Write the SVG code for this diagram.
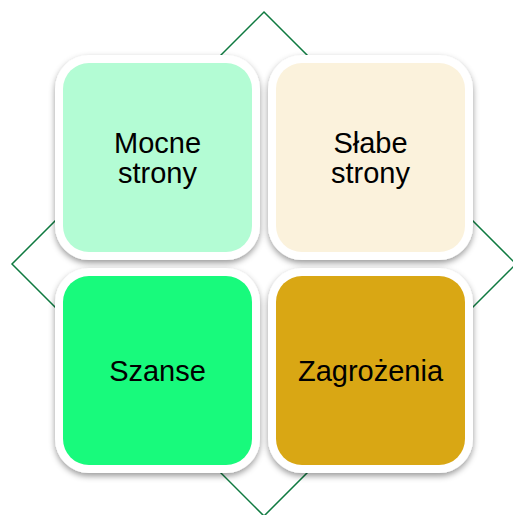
<svg xmlns="http://www.w3.org/2000/svg" width="513" height="515" viewBox="0 0 513 515">
  <defs>
    <filter id="shadow" x="-20%" y="-20%" width="140%" height="150%">
      <feDropShadow dx="0" dy="3" stdDeviation="3" flood-color="#000000" flood-opacity="0.4"/>
    </filter>
  </defs>
  <style>
    .frame { fill: #ffffff; filter: url(#shadow); }
    .label { font-family: "Liberation Sans", Arial, sans-serif; font-size: 29px; fill: #000000; text-anchor: middle; }
    .diamond { fill: none; stroke: #0f7a40; stroke-width: 1.5; }
  </style>
  <rect width="513" height="515" fill="#ffffff"/>
  <g id="connectors">
    <polygon class="diamond" points="264,12 516,264 264,516 12,264"/>
  </g>
  <g id="mocne-strony">
    <rect class="frame" x="55" y="55" width="205" height="205" rx="34"/>
    <rect x="63" y="63" width="189" height="189" rx="26" fill="#b3fcd4"/>
    <text class="label" x="157.5" y="152.5">Mocne</text>
    <text class="label" x="157.5" y="182.5">strony</text>
  </g>
  <g id="slabe-strony">
    <rect class="frame" x="268" y="55" width="205" height="205" rx="34"/>
    <rect x="276" y="63" width="189" height="189" rx="26" fill="#fbf2dc"/>
    <text class="label" x="370.5" y="152.5">Słabe</text>
    <text class="label" x="370.5" y="182.5">strony</text>
  </g>
  <g id="szanse">
    <rect class="frame" x="55" y="268" width="205" height="205" rx="34"/>
    <rect x="63" y="276" width="189" height="189" rx="26" fill="#18fa7c"/>
    <text class="label" x="157.5" y="380.5">Szanse</text>
  </g>
  <g id="zagrozenia">
    <rect class="frame" x="268" y="268" width="205" height="205" rx="34"/>
    <rect x="276" y="276" width="189" height="189" rx="26" fill="#d9a714"/>
    <text class="label" x="370.5" y="380.5">Zagrożenia</text>
  </g>
</svg>
